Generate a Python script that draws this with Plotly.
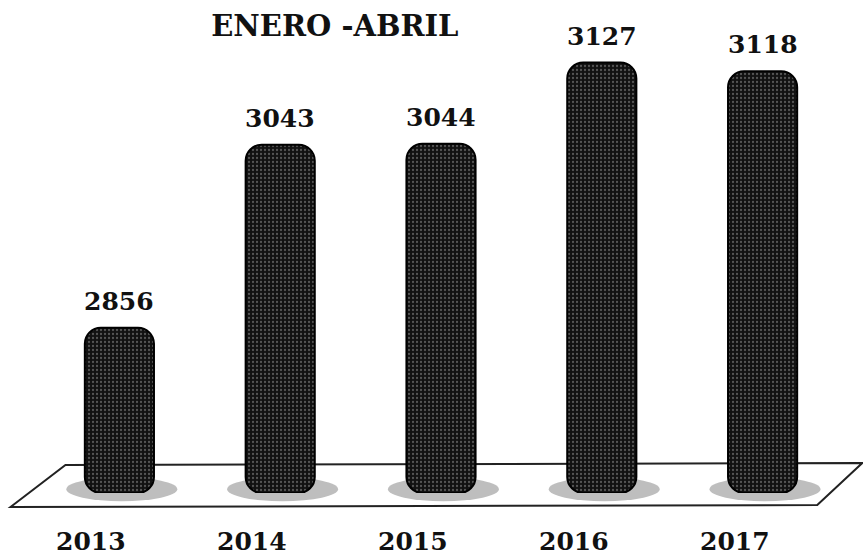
import plotly.graph_objects as go

years = ["2013", "2014", "2015", "2016", "2017"]
values = [2856, 3043, 3044, 3127, 3118]
title_text = "ENERO -ABRIL"

Y_MIN, Y_MAX = 2687, 3150
FONT = "DejaVu Serif"

fig = go.Figure()
fig.add_trace(go.Bar(
    x=list(range(len(years))),
    y=[v - Y_MIN for v in values],
    base=Y_MIN,
    width=0.43,
    marker=dict(
        color="#111111",
        line=dict(color="#000000", width=2),
        cornerradius=16,
        pattern=dict(shape=".", fgcolor="#9a9a9a", bgcolor="#111111", size=4, solidity=0.25),
    ),
    hoverinfo="skip",
))

# shadows below each bar
shapes = []
for i in range(len(years)):
    shapes.append(dict(type="circle", xref="x", yref="paper",
                       x0=i - 0.33, x1=i + 0.36, y0=-0.018, y1=0.035,
                       fillcolor="#a8a8a8", opacity=0.75, line=dict(width=0), layer="below"))
# floor parallelogram
shapes.append(dict(type="path", xref="paper", yref="paper",
                   path="M -0.0354,-0.0309 L 0.0329,0.0618 L 1.024,0.0662 L 0.968,-0.0265 Z",
                   line=dict(color="#222222", width=2), fillcolor="rgba(0,0,0,0)", layer="below"))

annotations = []
for i, (yr, v) in enumerate(zip(years, values)):
    annotations.append(dict(x=i, y=v, xref="x", yref="y", text=str(v), showarrow=False,
                            yanchor="bottom", yshift=10,
                            font=dict(family=FONT, size=25, color="#111111", weight="bold")))
    annotations.append(dict(x=i, y=-0.106, xref="x", yref="paper", text=yr, showarrow=False,
                            yanchor="middle", xshift=-28,
                            font=dict(family=FONT, size=25, color="#111111", weight="bold")))

fig.update_layout(
    width=863, height=558,
    margin=dict(l=38.5, r=19.5, t=40, b=65),
    paper_bgcolor="white", plot_bgcolor="white",
    showlegend=False,
    title=dict(text=title_text, x=0.368, xref="paper", xanchor="center",
               y=1 - 26 / 558, yref="container", yanchor="middle",
               font=dict(family=FONT, size=29, color="#111111", weight="bold")),
    xaxis=dict(range=[-0.5, 4.5], showticklabels=False, showgrid=False, zeroline=False, showline=False),
    yaxis=dict(range=[Y_MIN, Y_MAX], showticklabels=False, showgrid=False, zeroline=False, showline=False),
    shapes=shapes,
    annotations=annotations,
)

fig.write_html("out.html", config={"displayModeBar": False})

# remove default page margin so the figure sits at the window's top-left corner
with open("out.html", "r", encoding="utf-8") as f:
    html = f.read()
html = html.replace("<head>", "<head><style>html,body{margin:0;padding:0;overflow:hidden;}</style>", 1)
with open("out.html", "w", encoding="utf-8") as f:
    f.write(html)
